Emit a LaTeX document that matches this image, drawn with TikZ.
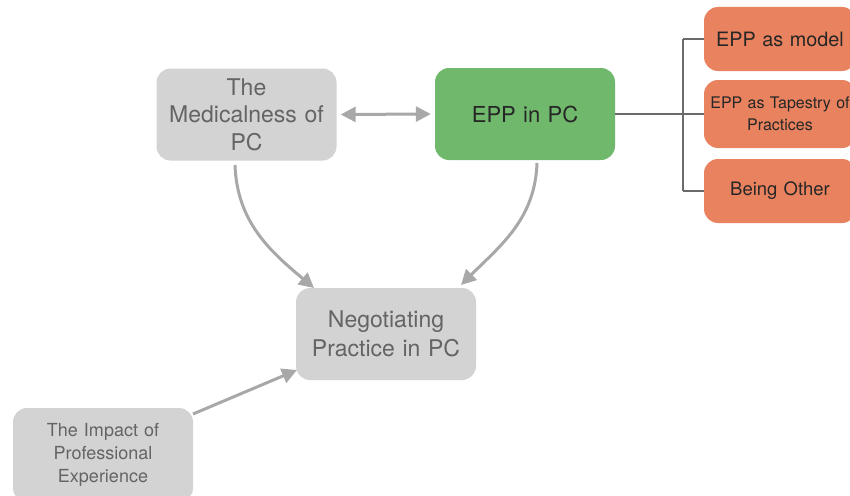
\documentclass[tikz,border=0pt]{standalone}
\usepackage{fontspec}
\setmainfont{TeX Gyre Heros}
\usetikzlibrary{arrows.meta,calc}
\definecolor{boxgray}{HTML}{D3D3D3}
\definecolor{txtgray}{HTML}{646464}
\definecolor{boxgreen}{HTML}{70B96C}
\definecolor{boxorange}{HTML}{E9835F}
\definecolor{arrgray}{HTML}{A8A8A8}
\definecolor{treegray}{HTML}{6A6A6A}
\tikzset{
  card/.style={rounded corners=14pt, inner sep=2pt, align=center, text width=#1},
  graycard/.style={card=176pt, fill=boxgray, text=txtgray},
  greencard/.style={card=176pt, fill=boxgreen, text=black!85},
  orangecard/.style={card=148pt, fill=boxorange, text=black!85},
  link/.style={draw=arrgray, line width=3pt, -{Triangle[length=15pt,width=15pt]}},
  tree/.style={draw=treegray, line width=2pt},
}
\begin{document}
\begin{tikzpicture}[x=1pt,y=-1pt]
\useasboundingbox (0,0) rectangle (850,495);
\clip (0,0) rectangle (850,495);
\node[graycard, minimum width=180pt, minimum height=92pt, font=\fontsize{23}{27.5}\selectfont] (med) at (246.5,114.5) {The\\Medicalness of\\PC};
\node[greencard, minimum width=180pt, minimum height=92pt, font=\fontsize{22}{27}\selectfont] (epp) at (525,114) {EPP in PC};
\node[orangecard, minimum width=150pt, minimum height=64pt, font=\fontsize{19.8}{23}\selectfont] (m1) at (780,39) {EPP as model};
\node[orangecard, minimum width=150pt, minimum height=68pt, font=\fontsize{16}{22}\selectfont] (m2) at (780,114) {EPP as Tapestry of\\Practices};
\node[orangecard, minimum width=150pt, minimum height=64pt, font=\fontsize{18.5}{22}\selectfont] (m3) at (780,191) {Being Other};
\node[graycard, minimum width=178pt, minimum height=92pt, font=\fontsize{23}{28.5}\selectfont] (neg) at (386,334) {Negotiating\\Practice in PC};
\node[graycard, minimum width=180pt, minimum height=94pt, font=\fontsize{18}{23}\selectfont] (imp) at (103,455) {The Impact of\\Professional\\Experience};
% tree connector
\coordinate (jt) at (683,39);
\coordinate (jb) at (683,191);
\draw[tree] (epp.east) -- (m2.west);
\draw[tree] (jt) -- (jb);
\draw[tree] (jt) -- (m1.west);
\draw[tree] (jb) -- (m3.west);
% arrows
\coordinate (ms) at (235,165);
\coordinate (nn1) at (314,288);
\coordinate (es) at (537,163);
\coordinate (nn2) at (461,285);
\coordinate (ie) at (193,414);
\coordinate (nw) at (297,370);
\draw[link] (ms) to[out=-88,in=140] (nn1);
\draw[link] (es) to[out=-92,in=45] (nn2);
\draw[link] (ie) -- (nw);
\draw[link, {Triangle[length=15pt,width=15pt]}-{Triangle[length=15pt,width=15pt]}] (med.east) ++(4,0) coordinate (da) -- ($(epp.west)+(-4,0)$) coordinate (db);
\end{tikzpicture}
\end{document}
